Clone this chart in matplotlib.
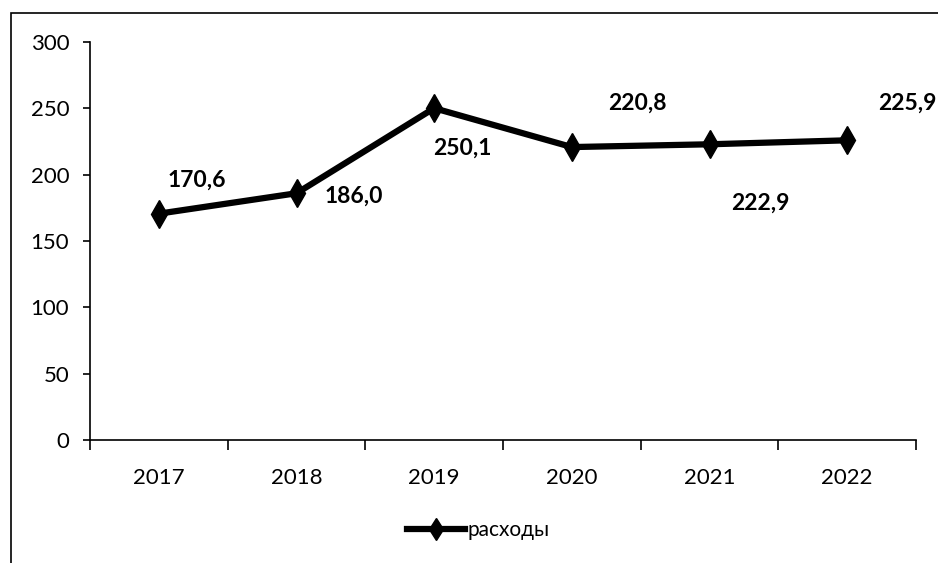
import matplotlib
matplotlib.use("Agg")
import matplotlib.pyplot as plt
from matplotlib.patches import Rectangle

plt.rcParams["font.family"] = ["Lato", "DejaVu Sans"]

years = ["2017", "2018", "2019", "2020", "2021", "2022"]
values = [170.6, 186.0, 250.1, 220.8, 222.9, 225.9]
labels = ["170,6", "186,0", "250,1", "220,8", "222,9", "225,9"]
# смещения подписей в пикселях
offsets = [(38, 33), (57, -3), (28, -40), (66, 44), (51, -59), (60, 37)]
series_name = "расходы"

fig = plt.figure(figsize=(9.38, 5.63), dpi=100)
fig.patches.append(Rectangle((11 / 938, -0.2), 1.2, 1.2 - 13 / 563,
                             transform=fig.transFigure, fill=False,
                             edgecolor="black", lw=1.2))
ax = fig.add_axes([90 / 938, 123 / 563, 826 / 938, 398 / 563])

x = list(range(len(years)))
ax.plot(x, values, color="black", lw=4.5, marker="d", markersize=14,
        label=series_name)

for xi, v, lab, off in zip(x, values, labels, offsets):
    ax.annotate(lab, (xi, v), xytext=off, textcoords="offset pixels",
                ha="center", va="center", fontsize=16.5, fontweight="bold")

ax.set_xlim(-0.5, len(years) - 0.5)
ax.set_ylim(0, 300)
ax.set_yticks(range(0, 301, 50))
ax.tick_params(axis="y", labelsize=16, length=5, pad=10, direction="out", width=1.2)
ax.set_xticks([i + 0.5 for i in range(-1, len(years))])
ax.set_xticklabels([])
ax.set_xticks(x, minor=True)
ax.set_xticklabels(years, minor=True, fontsize=16)
ax.tick_params(axis="x", which="major", length=7, width=1.2, direction="out")
ax.tick_params(axis="x", which="minor", length=0, pad=20)
ax.spines["top"].set_visible(False)
ax.spines["right"].set_visible(False)
ax.spines["left"].set_linewidth(1.2)
ax.spines["bottom"].set_linewidth(1.2)

fig.legend(loc="center", bbox_to_anchor=(478 / 938, 1 - 530 / 563),
           frameon=False, fontsize=15, handlelength=2.8, handletextpad=0.1,
           markerscale=0.8)

fig.savefig("out.png", dpi=100)
